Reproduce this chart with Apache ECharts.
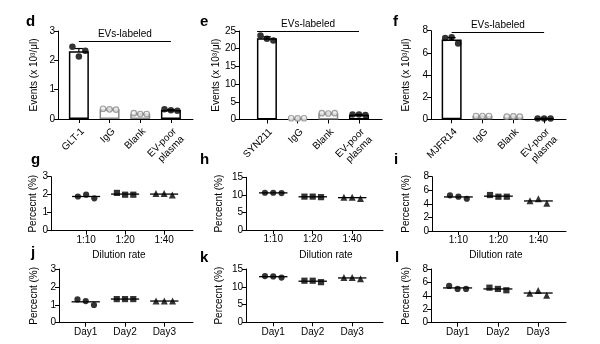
<!DOCTYPE html>
<html>
<head>
<meta charset="utf-8">
<script src="https://cdn.jsdelivr.net/npm/echarts@6/dist/echarts.min.js"></script>
<style>
  html, body { margin: 0; padding: 0; background: #fff; }
  #chart { width: 600px; height: 344px; }
</style>
</head>
<body>
<div id="chart"></div>
<script>
// ---- categories ----
const catsD = ['GLT-1', 'IgG', 'Blank', 'EV-poor\nplasma'];
const catsE = ['SYN211', 'IgG', 'Blank', 'EV-poor\nplasma'];
const catsF = ['MJFR14', 'IgG', 'Blank', 'EV-poor\nplasma'];
const dilutions = ['1:10', '1:20', '1:40'];
const days = ['Day1', 'Day2', 'Day3'];

// ---- events (x 10^3/µl), three replicates per group ----
const eventsD = [[2.46, 2.13, 2.33], [0.35, 0.33, 0.32], [0.20, 0.17, 0.17], [0.33, 0.30, 0.28]];
const eventsE = [[23.7, 22.8, 22.3], [0.35, 0.30, 0.35], [1.8, 1.7, 1.8], [1.4, 1.4, 1.3]];
const eventsF = [[7.35, 7.4, 6.85], [0.30, 0.30, 0.30], [0.25, 0.27, 0.25], [0.08, 0.08, 0.08]];

// ---- percent positive, three replicates per condition ----
const pctG = [[1.9, 2.0, 1.8], [2.1, 2.0, 2.0], [2.06, 2.06, 1.98]];
const pctH = [[10.6, 10.6, 10.5], [9.5, 9.5, 9.35], [9.3, 9.3, 9.0]];
const pctI = [[5.25, 5.05, 4.75], [5.3, 5.05, 5.05], [4.46, 4.75, 4.07]];
const pctJ = [[1.3, 1.21, 0.99], [1.32, 1.32, 1.32], [1.21, 1.21, 1.21]];
const pctK = [[13.0, 12.9, 12.6], [11.7, 11.7, 11.3], [12.6, 12.6, 12.25]];
const pctL = [[5.48, 5.03, 5.03], [5.22, 5.03, 4.83], [4.39, 4.78, 4.09]];

// ---- axis tick settings: [max, step] ----
const ticks3 = [3, 1];
const ticks8 = [8, 2];
const ticks15 = [15, 5];
const ticks25 = [25, 5];

const FONT = 'Liberation Sans';
const FS = 10;
const INK = '#000';
const GREY = '#8a8a8a';
const barInk = [INK, GREY, GREY, INK];
const hollow = [false, true, true, false];
const jitter = [-0.21, 0, 0.21];
const groupSymbols = ['circle', 'rect', 'triangle'];

const panels = [
  { key: 'd', kind: 'bar', cats: catsD, vals: eventsD, rect: [58, 31, 135, 88], x: [-0.68, 3.72], y: ticks3, gap: 19, bracket: [0, 3, 2.66], letter: [26, 14] },
  { key: 'e', kind: 'bar', cats: catsE, vals: eventsE, rect: [239, 31, 143, 88.5], x: [-0.91, 3.75], y: ticks25, gap: 10, bracket: [-0.32, 3, 24.9], letter: [200, 14] },
  { key: 'f', kind: 'bar', cats: catsF, vals: eventsF, rect: [431, 30.7, 135, 88.6], x: [-0.67, 3.71], y: ticks8, gap: 20, bracket: [0, 3, 7.86], letter: [393, 14] },
  { key: 'g', kind: 'dot', cats: dilutions, vals: pctG, rect: [51, 176.7, 142, 54], x: [-0.9, 2.74], y: ticks3, gap: 12, letter: [31, 152] },
  { key: 'h', kind: 'dot', cats: dilutions, vals: pctH, rect: [246, 177.3, 137, 52.7], x: [-0.69, 2.78], y: ticks15, gap: 22, letter: [200, 152] },
  { key: 'i', kind: 'dot', cats: dilutions, vals: pctI, rect: [432, 176.7, 134, 54.3], x: [-0.66, 2.69], y: ticks8, gap: 21, letter: [394, 152] },
  { key: 'j', kind: 'dot', cats: days, vals: pctJ, rect: [59, 269, 134, 53.7], x: [-0.68, 2.73], y: ticks3, gap: 20, letter: [31, 245] },
  { key: 'k', kind: 'dot', cats: days, vals: pctK, rect: [246, 269, 137, 53.3], x: [-0.69, 2.78], y: ticks15, gap: 22, letter: [200, 250] },
  { key: 'l', kind: 'dot', cats: days, vals: pctL, rect: [431, 269, 135, 53.7], x: [-0.66, 2.69], y: ticks8, gap: 20, letter: [395, 250] }
];

const mean = r => r.reduce((a, b) => a + b, 0) / r.length;
const sem = r => {
  const m = mean(r);
  return Math.sqrt(r.reduce((a, b) => a + (b - m) * (b - m), 0) / (r.length - 1) / r.length);
};

const grids = [], xAxes = [], yAxes = [], series = [], graphics = [];

panels.forEach((p, k) => {
  const [left, top, width, height] = p.rect;
  grids.push({ left, top, width, height, containLabel: false });
  const idx = p.cats.map((_, i) => i);
  const isBar = p.kind === 'bar';
  const xLabel = {
    customValues: idx,
    formatter: v => p.cats[Math.round(v)],
    rotate: isBar ? 45 : 0,
    fontFamily: FONT, fontSize: FS, color: INK, margin: isBar ? 7 : 4,
    lineHeight: 11
  };
  if (isBar) xLabel.verticalAlign = 'top';
  xAxes.push({
    type: 'value', gridIndex: k, min: p.x[0], max: p.x[1],
    splitLine: { show: false },
    axisLine: { show: true, onZero: false, lineStyle: { color: INK, width: 1 } },
    axisTick: { show: true, customValues: idx, length: 4, lineStyle: { color: INK, width: 1 } },
    axisLabel: xLabel
  });
  yAxes.push({
    type: 'value', gridIndex: k, min: 0, max: p.y[0], interval: p.y[1],
    splitLine: { show: false },
    axisLine: { show: true, onZero: false, lineStyle: { color: INK, width: 1 } },
    axisTick: { show: true, length: 4, lineStyle: { color: INK, width: 1 } },
    axisLabel: { fontFamily: FONT, fontSize: FS, color: INK, margin: 3 },
    name: isBar ? 'Events (x 10³/μl)' : 'Percecnt (%)',
    nameLocation: 'middle', nameGap: p.gap,
    nameTextStyle: { fontFamily: FONT, fontSize: FS, color: INK }
  });

  if (isBar) {
    const means = p.vals.map(mean);
    series.push({
      type: 'bar', xAxisIndex: k, yAxisIndex: k, barWidth: 20,
      data: means.map((m, i) => ({
        value: [i, m],
        itemStyle: { color: '#fff', borderColor: barInk[i], borderWidth: 1.5 }
      })),
      markLine: {
        silent: true, symbol: 'none',
        lineStyle: { color: INK, width: 1, type: 'solid' },
        label: { show: true, position: 'insideMiddleTop', formatter: 'EVs-labeled', color: INK, fontFamily: FONT, fontSize: FS, distance: 2 },
        emphasis: { disabled: true },
        data: [[{ coord: [p.bracket[0], p.bracket[2]] }, { coord: [p.bracket[1], p.bracket[2]] }]]
      }
    });
    series.push({
      type: 'custom', xAxisIndex: k, yAxisIndex: k,
      data: p.vals.map((r, i) => [i, mean(r), sem(r)]),
      renderItem: (params, api) => {
        const i = api.value(0), m = api.value(1), s = api.value(2);
        const hi = api.coord([i, m + s]), lo = api.coord([i, m - s]);
        const st = { stroke: barInk[i], lineWidth: 1.2 };
        const cap = 4;
        return {
          type: 'group', children: [
            { type: 'line', shape: { x1: hi[0], y1: hi[1], x2: lo[0], y2: lo[1] }, style: st },
            { type: 'line', shape: { x1: hi[0] - cap, y1: hi[1], x2: hi[0] + cap, y2: hi[1] }, style: st },
            { type: 'line', shape: { x1: lo[0] - cap, y1: lo[1], x2: lo[0] + cap, y2: lo[1] }, style: st }
          ]
        };
      }
    });
    const dots = [];
    p.vals.forEach((r, i) => r.forEach((v, j) => dots.push({
      value: [i + jitter[j], v],
      symbolSize: hollow[i] ? 5.5 : 6.5,
      itemStyle: hollow[i]
        ? { color: '#eee', borderColor: GREY, borderWidth: 1.2 }
        : { color: INK, borderColor: INK, borderWidth: 0 }
    })));
    series.push({ type: 'scatter', xAxisIndex: k, yAxisIndex: k, symbol: 'circle', data: dots });
  } else {
    const dots = [];
    p.vals.forEach((r, i) => r.forEach((v, j) => dots.push({
      value: [i + jitter[j], v], symbol: groupSymbols[i],
      symbolSize: groupSymbols[i] === 'triangle' ? 7 : 6.2
    })));
    series.push({ type: 'scatter', xAxisIndex: k, yAxisIndex: k, itemStyle: { color: INK }, data: dots });
    series.push({
      type: 'custom', xAxisIndex: k, yAxisIndex: k,
      data: p.vals.map((r, i) => [i, mean(r)]),
      renderItem: (params, api) => {
        const i = api.value(0), m = api.value(1);
        const a = api.coord([i - 0.36, m]), b = api.coord([i + 0.36, m]);
        return { type: 'line', shape: { x1: a[0], y1: a[1], x2: b[0], y2: b[1] }, style: { stroke: INK, lineWidth: 1.3 } };
      }
    });
  }

  graphics.push({
    type: 'text', left: p.letter[0], top: p.letter[1],
    style: { text: p.key, font: 'bold 15px ' + FONT, fill: INK }
  });
});

// x-axis titles under the dilution panels
[[119, 255], [326, 255], [496, 255]].forEach(([x, y]) => graphics.push({
  type: 'text', x, y,
  style: { text: 'Dilution rate', font: FS + 'px ' + FONT, fill: INK, align: 'center', verticalAlign: 'middle' }
}));

const chart = echarts.init(document.getElementById('chart'), null, { renderer: 'canvas' });
chart.setOption({
  animation: false,
  backgroundColor: '#fff',
  textStyle: { fontFamily: FONT },
  grid: grids, xAxis: xAxes, yAxis: yAxes, series, graphic: graphics
});
</script>
</body>
</html>
